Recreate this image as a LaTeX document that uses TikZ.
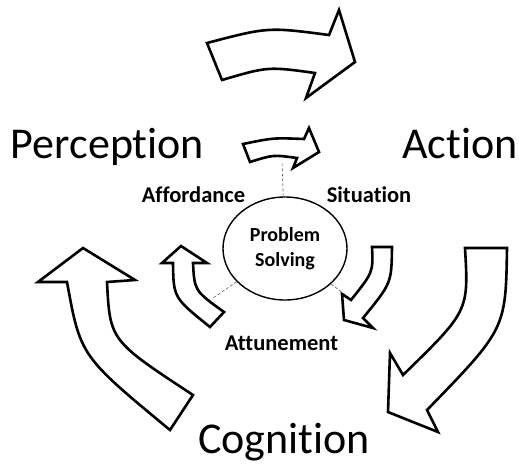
\documentclass[tikz,border=0pt]{standalone}
\usepackage{fontspec}
\setmainfont{Carlito}[RawFeature={-liga;-clig;-dlig;-calt}]
\usetikzlibrary{shapes.geometric,positioning}

\begin{document}
\begin{tikzpicture}[x=1pt,y=-1pt,
    % General looks of the block arrows
    blockarrow/.style={draw, line width=2.6pt, fill=white, line join=miter},
    % Text styles
    big/.style={font=\fontsize{44}{48}\selectfont},
    lbl/.style={font=\bfseries\fontsize{22.5}{25}\selectfont},
    link/.style={densely dashed, gray!70!black, line width=0.6pt}]
\useasboundingbox (0,0) rectangle (519,464);

% Centre of the cycle
\node[ellipse, draw, line width=1.4pt, minimum width=124, minimum height=103,
      inner sep=0pt, align=center, font=\bfseries\fontsize{20}{25}\selectfont]
      (ps) at (285,248.5) {Problem\\Solving};

% Free ends of the dashed links
\coordinate (tiptop) at (282,162);
\coordinate (tipleft) at (213,298);
\coordinate (tipright) at (352,300);
\draw[link] (ps) -- (tiptop);
\draw[link] (ps) -- (tipleft);
\draw[link] (ps) -- (tipright);

% Outer cycle
\draw[blockarrow] (207,43) .. controls (268,27) .. (329,35) -- (339,10) -- (355,62)
  -- (306,98) -- (315,73) .. controls (268,66.5) .. (222,80) -- cycle;
\draw[blockarrow] (465,248) -- (507,248) .. controls (505.7,329) .. (427,410) -- (438,432)
  -- (388,412) -- (390,353) -- (403,375) .. controls (468.7,311) .. (465,248) -- cycle;
\draw[blockarrow] (83,248) -- (135,280) -- (107,282) .. controls (110,340.5) .. (193,395)
  -- (170,430) .. controls (80.5,356) .. (67,282) -- (38,282) -- cycle;

% Inner cycle
\draw[blockarrow] (243,144) .. controls (273.2,137.8) .. (304,139) -- (309,128) -- (319,152)
  -- (293,168) -- (297,158) .. controls (273.2,154.7) .. (250,162) -- cycle;
\draw[blockarrow] (372,247) -- (392,247) .. controls (391.5,283.2) .. (363,318) -- (373,328)
  -- (344,320) -- (342,294) -- (351,300) .. controls (373.2,272.2) .. (372,247) -- cycle;
\draw[blockarrow] (181,246) -- (207,263) -- (193,263) .. controls (194.5,290.8) .. (224,312)
  -- (210,327) .. controls (173.5,297.7) .. (173,263) -- (162,263) -- cycle;

% Labels
\node[big, anchor=base] (perception) at (107.5,158) {Perception};
\node[big, anchor=base] (action) at (460,158) {Action};
\node[big, anchor=base] (cognition) at (284,453) {Cognition};
\node[lbl, anchor=base] (affordance) at (193.5,202) {Affordance};
\node[lbl, anchor=base] (situation) at (369,202) {Situation};
\node[lbl, anchor=base] (attunement) at (281.5,350) {Attunement};
\end{tikzpicture}
\end{document}
